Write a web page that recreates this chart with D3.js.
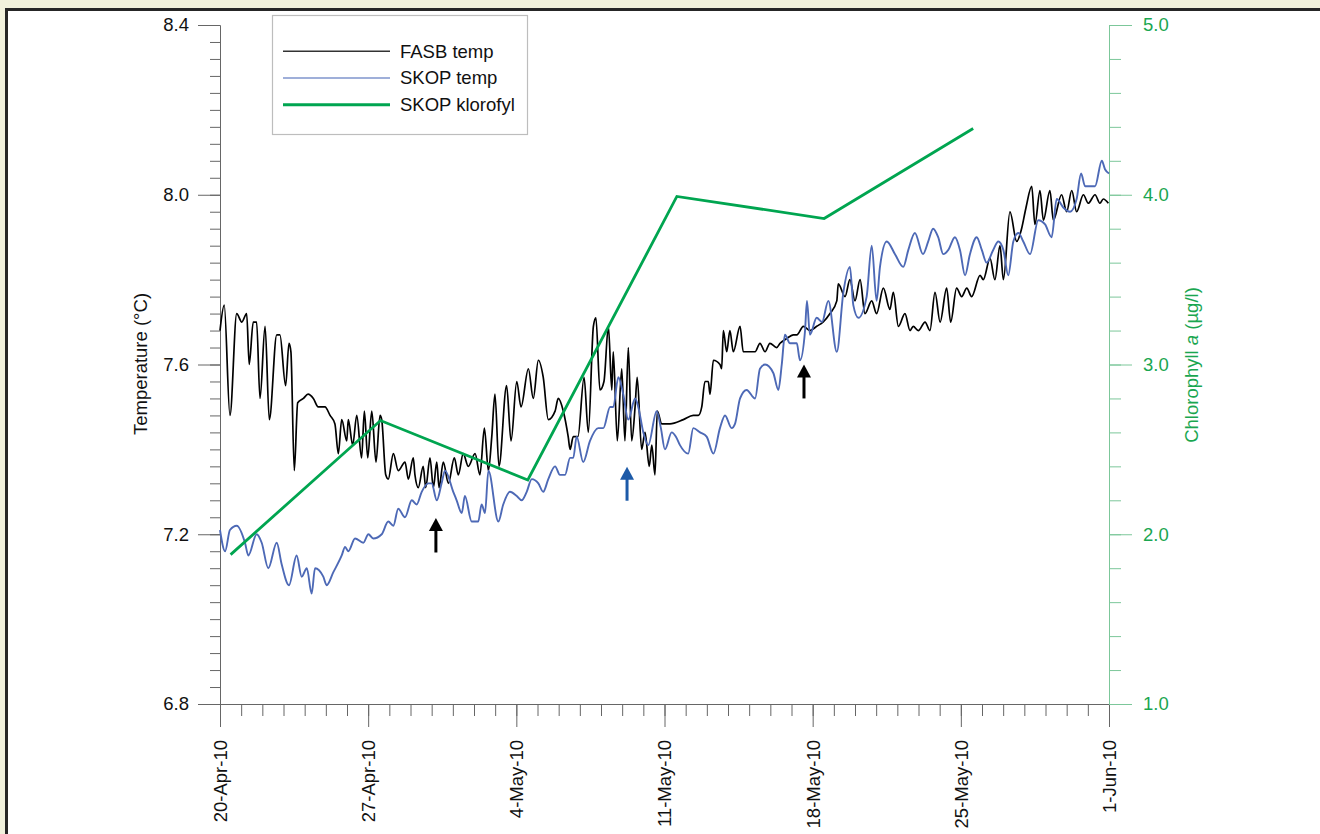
<!DOCTYPE html>
<html>
<head>
<meta charset="utf-8">
<script src="https://cdn.jsdelivr.net/npm/d3@7"></script>
<style>
body { margin: 0; background: #f1f1dc; }
svg { display: block; font-family: "Liberation Sans", Arial, sans-serif; }
</style>
</head>
<body>
<div id="chart"></div>
<script>
// days since 20-Apr-10 00:00 and temperature (°C), FASB logger
const fasbDay = [0.00,0.20,0.47,0.79,1.03,1.26,1.38,1.57,1.73,1.89,2.13,2.33,2.68,2.83,3.10,3.26,3.35,3.51,3.67,3.94,
  4.16,4.41,4.64,4.96,5.20,5.43,5.59,5.75,5.99,6.06,6.27,6.46,6.69,6.82,6.98,7.17,7.37,7.56,7.64,7.83,
  7.95,8.19,8.42,8.74,8.90,9.13,9.21,9.37,9.60,9.72,9.92,10.08,10.24,10.35,10.55,10.79,11.07,11.26,11.49,11.73,
  12.05,12.28,12.49,12.68,12.84,12.99,13.18,13.54,13.75,14.02,14.22,14.57,14.80,15.04,15.27,15.51,15.83,15.98,16.22,16.45,
  16.54,16.69,16.91,17.20,17.40,17.64,17.76,17.95,18.14,18.35,18.51,18.58,18.77,18.98,19.13,19.29,19.45,19.61,19.71,19.92,
  20.08,20.28,20.40,20.55,20.66,20.87,21.26,21.89,22.36,22.60,22.76,22.91,23.07,23.15,23.31,23.62,23.70,23.78,23.94,24.09,
  24.25,24.57,24.72,24.96,25.28,25.51,25.75,25.98,26.30,26.46,26.74,27.09,27.25,27.56,27.87,28.19,28.49,28.82,29.14,29.21,
  29.53,29.76,30.00,30.24,30.47,30.79,31.02,31.34,31.65,31.81,32.05,32.36,32.60,32.75,32.99,33.31,33.54,33.78,34.02,34.33,
  34.52,34.80,35.04,35.28,35.51,35.91,36.06,36.38,36.61,36.85,37.01,37.32,37.64,37.87,38.08,38.35,38.50,38.74,38.90,39.21,
  39.37,39.76,40.00,40.24,40.47,40.79,41.02,41.34,41.57,41.73,41.97];
const fasbTemp = [7.68,7.74,7.48,7.72,7.70,7.72,7.60,7.70,7.70,7.52,7.69,7.47,7.67,7.67,7.55,7.65,7.63,7.35,7.51,7.52,
  7.53,7.52,7.50,7.50,7.48,7.46,7.39,7.47,7.42,7.47,7.41,7.48,7.38,7.49,7.38,7.49,7.37,7.48,7.47,7.34,
  7.33,7.39,7.35,7.37,7.33,7.38,7.34,7.31,7.36,7.31,7.38,7.31,7.37,7.31,7.37,7.32,7.38,7.34,7.39,7.36,
  7.39,7.34,7.45,7.35,7.43,7.53,7.36,7.55,7.42,7.56,7.50,7.59,7.52,7.61,7.57,7.47,7.49,7.52,7.49,7.43,
  7.40,7.43,7.43,7.57,7.44,7.69,7.71,7.54,7.56,7.69,7.54,7.63,7.42,7.59,7.42,7.64,7.42,7.50,7.57,7.40,
  7.44,7.36,7.41,7.34,7.49,7.46,7.46,7.47,7.48,7.48,7.50,7.56,7.56,7.53,7.61,7.60,7.59,7.68,7.63,7.68,
  7.63,7.69,7.63,7.63,7.63,7.65,7.63,7.65,7.64,7.65,7.66,7.67,7.67,7.69,7.68,7.69,7.70,7.72,7.75,7.79,
  7.76,7.80,7.75,7.80,7.72,7.75,7.72,7.78,7.73,7.77,7.69,7.72,7.68,7.69,7.68,7.70,7.68,7.77,7.70,7.78,
  7.70,7.78,7.76,7.78,7.76,7.81,7.80,7.85,7.80,7.88,7.80,7.96,7.89,7.92,7.97,8.02,7.93,8.01,7.94,8.01,
  7.94,8.00,7.96,8.01,7.96,8.00,7.98,8.00,7.98,7.99,7.98];

// days since 20-Apr-10 00:00 and temperature (°C), SKOP buoy
const skopDay = [0.00,0.24,0.47,0.79,1.18,1.34,1.73,1.97,2.28,2.68,2.91,3.26,3.62,3.86,4.10,4.33,4.49,4.88,5.04,5.35,
  5.75,5.91,6.06,6.38,6.77,7.01,7.24,7.64,7.95,8.19,8.42,8.74,9.06,9.29,9.53,9.84,10.00,10.24,10.47,10.63,
  11.02,11.18,11.42,11.57,11.89,12.20,12.36,12.52,12.68,13.15,13.38,13.70,14.02,14.25,14.49,14.73,15.04,15.27,15.51,15.83,
  16.06,16.30,16.54,16.69,16.85,17.16,17.48,17.87,18.11,18.43,18.58,18.82,19.05,19.29,19.61,19.76,20.00,20.23,20.63,20.83,
  21.02,21.34,21.54,21.73,22.12,22.36,22.68,22.99,23.31,23.62,23.86,24.17,24.33,24.57,24.88,25.28,25.51,25.75,26.14,26.38,
  26.54,26.69,26.93,27.25,27.40,27.64,27.73,27.87,28.19,28.44,28.74,29.14,29.45,29.76,29.92,30.16,30.55,30.79,31.02,31.18,
  31.50,31.89,32.28,32.52,32.83,33.21,33.46,33.69,33.93,34.17,34.41,34.72,34.96,35.20,35.43,35.75,35.99,36.22,36.53,36.77,
  37.01,37.24,37.48,37.72,37.95,38.27,38.66,38.98,39.29,39.53,39.84,40.16,40.47,40.68,40.87,41.34,41.66,41.81,42.00];
const skopTemp = [7.21,7.16,7.21,7.22,7.18,7.15,7.20,7.18,7.12,7.18,7.13,7.08,7.15,7.10,7.12,7.06,7.12,7.10,7.08,7.11,
  7.15,7.17,7.16,7.19,7.18,7.20,7.19,7.20,7.23,7.22,7.26,7.24,7.28,7.27,7.30,7.32,7.32,7.28,7.32,7.35,
  7.30,7.28,7.25,7.29,7.23,7.23,7.27,7.25,7.35,7.23,7.27,7.30,7.29,7.28,7.30,7.33,7.32,7.30,7.33,7.36,
  7.34,7.34,7.38,7.38,7.43,7.37,7.42,7.45,7.45,7.50,7.50,7.57,7.53,7.47,7.52,7.50,7.44,7.41,7.49,7.45,
  7.40,7.44,7.43,7.41,7.39,7.45,7.44,7.43,7.39,7.45,7.48,7.45,7.46,7.52,7.54,7.52,7.59,7.60,7.58,7.54,
  7.60,7.67,7.65,7.65,7.61,7.68,7.75,7.67,7.71,7.70,7.75,7.63,7.77,7.83,7.74,7.71,7.76,7.88,7.75,7.83,
  7.89,7.86,7.83,7.87,7.91,7.86,7.89,7.92,7.90,7.86,7.87,7.90,7.87,7.81,7.86,7.90,7.87,7.84,7.87,7.89,
  7.87,7.81,7.89,7.91,7.89,7.86,7.94,7.93,7.90,7.99,7.97,7.96,7.99,8.05,8.02,8.02,8.08,8.06,8.05];

// SKOP chlorophyll samples
const chlTime = ["2010-04-20 12:00","2010-04-27 14:00","2010-05-04 13:00","2010-05-11 14:00","2010-05-18 13:00","2010-05-25 14:00"];
const chlValue = [1.88, 2.67, 2.32, 3.99, 3.86, 4.39];

// axis ticks
const dateTicks = ["2010-04-20","2010-04-27","2010-05-04","2010-05-11","2010-05-18","2010-05-25","2010-06-01"];
const tempTicks = [6.8, 7.2, 7.6, 8.0, 8.4];
const chlTicks = [1.0, 2.0, 3.0, 4.0, 5.0];

// event arrows: day, tip temperature, tail temperature, which logger
const arrowDay = [10.20, 19.23, 27.59];
const arrowTip = [7.238, 7.359, 7.600];
const arrowTail = [7.157, 7.279, 7.520];
const arrowSeries = ["FASB", "SKOP", "FASB"];

const legendNames = ["FASB temp", "SKOP temp", "SKOP klorofyl"];

const parseDay = d3.timeParse("%Y-%m-%d");
const parseTime = d3.timeParse("%Y-%m-%d %H:%M");
const start = parseDay(dateTicks[0]);
const end = parseDay(dateTicks[dateTicks.length - 1]);
const toDate = d => new Date(start.getTime() + d * 864e5);

const fasb = fasbDay.map((d, i) => ({ date: toDate(d), v: fasbTemp[i] }));
const skop = skopDay.map((d, i) => ({ date: toDate(d), v: skopTemp[i] }));
const chl = chlTime.map((t, i) => ({ date: parseTime(t), v: chlValue[i] }));

const colors = { FASB: "#000000", SKOP: "#4d69b6", chl: "#00a550", arrowSKOP: "#1d5aa8" };
const font = "'Liberation Sans', Arial, sans-serif";

const svg = d3.select("#chart").append("svg")
    .attr("width", 1320)
    .attr("height", 834);

svg.append("rect").attr("width", 1320).attr("height", 834).attr("fill", "#f1f1dc");
svg.append("rect")
    .attr("x", 6.5).attr("y", 9.5)
    .attr("width", 1400).attr("height", 900)
    .attr("fill", "#fff")
    .attr("stroke", "#262626")
    .attr("stroke-width", 3);

const x = d3.scaleTime().domain([start, end]).range([220, 1109]);
const y = d3.scaleLinear().domain([6.8, 8.4]).range([704, 25]);
const y2 = d3.scaleLinear().domain([1, 5]).range([704, 25]);

// left axis
const tempMinor = d3.range(41).map(i => 6.8 + i * 0.04);
svg.append("g")
    .attr("transform", "translate(220,0)")
    .attr("color", "#666")
    .call(d3.axisLeft(y).tickValues(tempMinor).tickSize(10).tickSizeOuter(0).tickFormat(""));
svg.append("g")
    .attr("transform", "translate(220,0)")
    .attr("color", "#666")
    .call(d3.axisLeft(y).tickValues(tempTicks).tickSize(22).tickSizeOuter(0).tickPadding(9).tickFormat(d3.format(".1f")))
    .attr("font-size", 18.5).attr("font-family", font)
    .call(g => g.selectAll("text").attr("fill", "#111"));

// bottom axis
const dayMinor = d3.timeDay.range(start, d3.timeDay.offset(end, 1));
svg.append("g")
    .attr("transform", "translate(0,704)")
    .attr("color", "#666")
    .call(d3.axisBottom(x).tickValues(dayMinor).tickSize(12).tickSizeOuter(0).tickFormat(""));
svg.append("g")
    .attr("transform", "translate(0,704)")
    .attr("color", "#666")
    .call(d3.axisBottom(x).tickValues(dateTicks.map(parseDay)).tickSize(23).tickSizeOuter(0).tickFormat(d3.timeFormat("%-d-%b-%y")))
    .attr("font-size", 18.5).attr("font-family", font)
    .call(g => g.selectAll("text")
        .attr("fill", "#111")
        .attr("text-anchor", "end")
        .attr("transform", "rotate(-90)")
        .attr("x", -36).attr("y", 0).attr("dy", "0.35em"));

// right axis
const chlMinor = d3.range(21).map(i => 1 + i * 0.2);
svg.append("g")
    .attr("transform", "translate(1109,0)")
    .attr("color", "#7cc79a")
    .call(d3.axisRight(y2).tickValues(chlMinor).tickSize(12).tickSizeOuter(0).tickFormat(""));
svg.append("g")
    .attr("transform", "translate(1109,0)")
    .attr("color", "#7cc79a")
    .call(d3.axisRight(y2).tickValues(chlTicks).tickSize(23).tickSizeOuter(0).tickPadding(11).tickFormat(d3.format(".1f")))
    .attr("font-size", 18.5).attr("font-family", font)
    .call(g => g.selectAll("text").attr("fill", "#1aa650"));

// axis titles
svg.append("text")
    .attr("transform", "translate(147,364) rotate(-90)")
    .attr("text-anchor", "middle")
    .attr("font-size", 18.5)
    .attr("fill", "#111")
    .text("Temperature (°C)");

const chlTitle = svg.append("text")
    .attr("transform", "translate(1198,365) rotate(-90)")
    .attr("text-anchor", "middle")
    .attr("font-size", 18.5)
    .attr("fill", "#1aa650");
chlTitle.append("tspan").text("Chlorophyll ");
chlTitle.append("tspan").attr("font-style", "italic").text("a");
chlTitle.append("tspan").text(" (µg/l)");

// series
const tempLine = d3.line().curve(d3.curveMonotoneX).x(d => x(d.date)).y(d => y(d.v));
const chlLine = d3.line().x(d => x(d.date)).y(d => y2(d.v));

svg.append("path").datum(fasb)
    .attr("d", tempLine)
    .attr("fill", "none")
    .attr("stroke", colors.FASB)
    .attr("stroke-width", 1.7)
    .attr("stroke-linejoin", "round");
svg.append("path").datum(skop)
    .attr("d", tempLine)
    .attr("fill", "none")
    .attr("stroke", colors.SKOP)
    .attr("stroke-width", 1.9)
    .attr("stroke-linejoin", "round");
svg.append("path").datum(chl)
    .attr("d", chlLine)
    .attr("fill", "none")
    .attr("stroke", colors.chl)
    .attr("stroke-width", 2.8);

// arrows
arrowDay.forEach((d, i) => {
    const ax = x(toDate(d));
    const tip = y(arrowTip[i]);
    const tail = y(arrowTail[i]);
    const c = arrowSeries[i] === "SKOP" ? colors.arrowSKOP : colors.FASB;
    svg.append("line")
        .attr("x1", ax).attr("x2", ax)
        .attr("y1", tail).attr("y2", tip + 10)
        .attr("stroke", c).attr("stroke-width", 3);
    svg.append("path")
        .attr("d", `M${ax},${tip} L${ax + 7},${tip + 13} L${ax - 7},${tip + 13} Z`)
        .attr("fill", c);
});

// legend
const legend = svg.append("g");
legend.append("rect")
    .attr("x", 272.5).attr("y", 15.5)
    .attr("width", 255).attr("height", 119)
    .attr("fill", "#fff")
    .attr("stroke", "#bdbdbd")
    .attr("stroke-width", 1.2);
const legendStyle = [
    { color: "#333", w: 1.4 },
    { color: "#7f95cc", w: 1.6 },
    { color: colors.chl, w: 3 }
];
legendNames.forEach((name, i) => {
    const ly = 51.3 + i * 26.7;
    legend.append("line")
        .attr("x1", 283).attr("x2", 390)
        .attr("y1", ly).attr("y2", ly)
        .attr("stroke", legendStyle[i].color)
        .attr("stroke-width", legendStyle[i].w);
    legend.append("text")
        .attr("x", 400).attr("y", ly + 6.4)
        .attr("font-size", 18.5)
        .attr("fill", "#111")
        .text(name);
});
</script>
</body>
</html>
